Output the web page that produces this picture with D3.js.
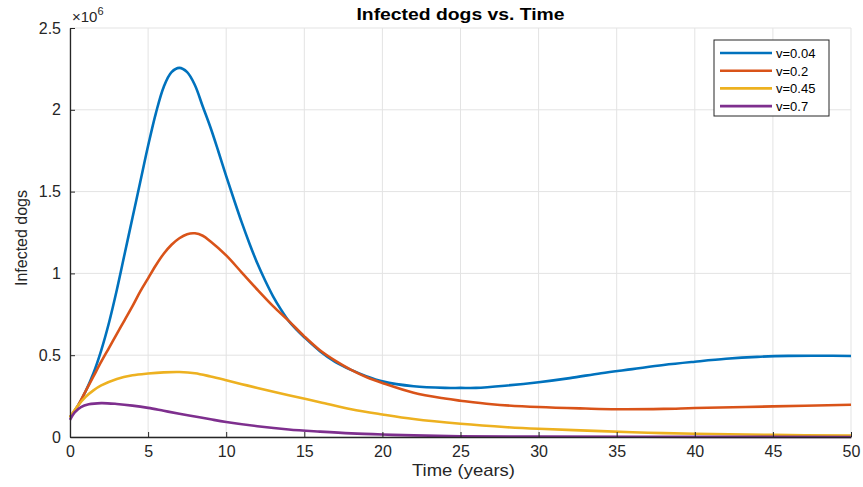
<!DOCTYPE html>
<html><head><meta charset="utf-8">
<script src="https://cdn.jsdelivr.net/npm/d3@7"></script>
<style>body{margin:0;background:#fff}svg{display:block}text{font-family:"Liberation Sans",Arial,sans-serif}</style>
</head><body><svg id="c" width="863" height="487"></svg>
<script>
const xTicks = [0,5,10,15,20,25,30,35,40,45,50];
const yTicks = [0,0.5,1,1.5,2,2.5];
const yTickLabels = ["0","0.5","1","1.5","2","2.5"];
const seriesNames = ["v=0.04","v=0.2","v=0.45","v=0.7"];
const seriesColors = ["#0072BD","#D95319","#EDB120","#7E2F8E"];
// values in millions (×10^6)
const tBlue = [0,0.5,1,1.5,2,2.5,3,3.5,4,4.5,5,5.5,6,6.5,7,7.5,8,8.5,9,9.5,10,10.5,11,11.5,12,12.5,13,13.5,14,14.5,15,16,17,18,19,20,22,24,25,26,28,30,32,34,36,38,40,42,44,46,48,50];
const vBlue = [0.12,0.19,0.28,0.39,0.53,0.70,0.90,1.12,1.34,1.56,1.78,1.98,2.14,2.23,2.256,2.23,2.15,2.02,1.89,1.745,1.595,1.45,1.31,1.18,1.06,0.955,0.86,0.78,0.71,0.657,0.61,0.525,0.458,0.41,0.37,0.34,0.31,0.30,0.30,0.30,0.315,0.335,0.36,0.39,0.415,0.44,0.46,0.478,0.49,0.496,0.497,0.495];
const tRed = [0,0.5,1,1.5,2,2.5,3,3.5,4,4.5,5,5.5,6,6.5,7,7.5,8,8.5,9,10,11,12,13,14,15,16,17,18,19,20,22,24,25,27,30,33,35,38,40,45,50];
const vRed = [0.12,0.19,0.28,0.37,0.46,0.545,0.63,0.715,0.80,0.89,0.97,1.05,1.12,1.175,1.215,1.24,1.245,1.23,1.195,1.11,1.005,0.90,0.80,0.71,0.615,0.53,0.465,0.41,0.365,0.33,0.27,0.235,0.222,0.20,0.183,0.174,0.170,0.172,0.177,0.187,0.197];
const tYellow = [0,0.5,1,1.5,2,3,4,5,6,7,8,9,10,11,12,14,16,18,20,22,25,28,30,34,37,40,45,50];
const vYellow = [0.12,0.19,0.245,0.285,0.315,0.355,0.377,0.388,0.395,0.397,0.390,0.370,0.347,0.323,0.30,0.255,0.213,0.17,0.138,0.11,0.081,0.06,0.05,0.036,0.026,0.02,0.013,0.009];
const tPurple = [0,0.3,0.7,1.2,2,3,4,5,6,7,8,9,10,12,14,16,18,20,22,25,30,40,50];
const vPurple = [0.105,0.15,0.183,0.200,0.207,0.202,0.192,0.178,0.16,0.142,0.125,0.108,0.092,0.066,0.046,0.033,0.022,0.015,0.01,0.005,0.002,0.001,0.0];

const series = [[tBlue,vBlue],[tRed,vRed],[tYellow,vYellow],[tPurple,vPurple]];

const svg = d3.select("#c");
const L=70,R=851,T=28,B=437;
const x = d3.scaleLinear().domain([0,50]).range([L,R]);
const y = d3.scaleLinear().domain([0,2.5]).range([B,T]);

// grid
const g = svg.append("g");
g.selectAll(".gx").data(xTicks).enter().append("line")
 .attr("x1",d=>x(d)).attr("x2",d=>x(d)).attr("y1",T).attr("y2",B)
 .attr("stroke","#e3e3e3").attr("stroke-width",1);
g.selectAll(".gy").data(yTicks).enter().append("line")
 .attr("x1",L).attr("x2",R).attr("y1",d=>y(d)).attr("y2",d=>y(d))
 .attr("stroke","#e3e3e3").attr("stroke-width",1);

// lines
const line = d3.line().x(d=>x(d[0])).y(d=>y(d[1])).curve(d3.curveCatmullRom.alpha(0.5));
series.forEach((s,i)=>{
  const pts = s[0].map((t,j)=>[t,s[1][j]]);
  svg.append("path").datum(pts).attr("d",line).attr("fill","none")
   .attr("stroke",seriesColors[i]).attr("stroke-width",2.6).attr("stroke-linejoin","round");
});

// axes
const xAxis = d3.axisBottom(x).tickValues(xTicks).tickSizeInner(-5).tickSizeOuter(0).tickPadding(9);
const yAxis = d3.axisLeft(y).tickValues(yTicks).tickFormat((d,i)=>yTickLabels[i]).tickSizeInner(-5).tickSizeOuter(0).tickPadding(9);
const gx = svg.append("g").attr("transform",`translate(0,${B})`).call(xAxis);
const gy = svg.append("g").attr("transform",`translate(${L},0)`).call(yAxis);
[gx,gy].forEach(a=>{
  a.select(".domain").attr("stroke","#262626").attr("stroke-width",1.3);
  a.selectAll(".tick line").attr("stroke","#262626");
  a.selectAll(".tick text").attr("fill","#262626").style("font-size","16px");
});

// exponent
const ex = svg.append("text").attr("x",L+2).attr("y",22).attr("fill","#262626").style("font-size","15px");
ex.append("tspan").text("×10");
ex.append("tspan").attr("dy",-7).style("font-size","11px").text("6");

// title
svg.append("text").attr("x",(L+R)/2).attr("y",20).attr("text-anchor","middle")
 .style("font-size","16px").style("font-weight","bold").attr("textLength",208).attr("lengthAdjust","spacingAndGlyphs")
 .attr("fill","#000").text("Infected dogs vs. Time");
// axis labels
svg.append("text").attr("x",(L+R)/2+3).attr("y",476).attr("text-anchor","middle")
 .style("font-size","17px").attr("textLength",103).attr("lengthAdjust","spacingAndGlyphs")
 .attr("fill","#262626").text("Time (years)");
svg.append("text").attr("transform","translate(27,238) rotate(-90)").attr("text-anchor","middle")
 .style("font-size","16px").attr("textLength",96).attr("lengthAdjust","spacingAndGlyphs").attr("fill","#262626").text("Infected dogs");

// legend
const lg = svg.append("g");
lg.append("rect").attr("x",714).attr("y",40).attr("width",115).attr("height",76)
 .attr("fill","#fff").attr("stroke","#262626").attr("stroke-width",1);
seriesNames.forEach((n,i)=>{
  const yy = 53 + i*17.7;
  lg.append("line").attr("x1",720).attr("x2",772).attr("y1",yy).attr("y2",yy)
   .attr("stroke",seriesColors[i]).attr("stroke-width",2.6);
  lg.append("text").attr("x",776).attr("y",yy+5).style("font-size","13px").attr("fill","#000").text(n);
});
</script></body></html>
